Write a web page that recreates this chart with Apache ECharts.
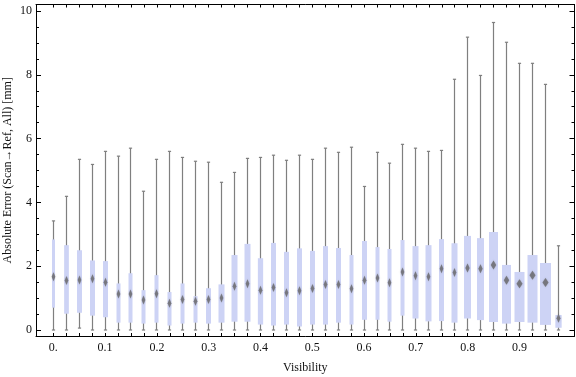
<!DOCTYPE html>
<html>
<head>
<meta charset="utf-8">
<script src="https://cdn.jsdelivr.net/npm/echarts@6/dist/echarts.min.js"></script>
<style>
  html, body { margin: 0; padding: 0; background: #fff; }
  #chart { width: 576px; height: 377px; }
</style>
</head>
<body>
<div id="chart"></div>
<script>
// visibility bins (box centres)
var visibility = [];
for (var i = 0; i < 40; i++) visibility.push(+(i * 0.025).toFixed(3));

// box-whisker statistics per bin [mm]
var whiskerLow = [0, 0, 0.06, 0, 0, 0, 0, 0, 0, 0,
                  0, 0, 0, 0, 0, 0, 0, 0, 0, 0,
                  0, 0, 0, 0, 0, 0, 0, 0, 0, 0,
                  0, 0, 0, 0, 0, 0, 0, 0, 0, 0];
var quart1 = [0.70, 0.51, 0.54, 0.45, 0.40, 0.23, 0.23, 0.20, 0.23, 0.14,
              0.20, 0.23, 0.20, 0.23, 0.26, 0.26, 0.17, 0.14, 0.17, 0.11,
              0.17, 0.17, 0.23, 0.17, 0.32, 0.32, 0.26, 0.45, 0.36, 0.27,
              0.28, 0.23, 0.36, 0.31, 0.25, 0.20, 0.25, 0.23, 0.16, 0.07];
var median = [1.67, 1.55, 1.57, 1.61, 1.50, 1.13, 1.13, 0.94, 1.14, 0.84,
              0.96, 0.90, 0.96, 1.00, 1.37, 1.45, 1.25, 1.33, 1.17, 1.23,
              1.30, 1.43, 1.43, 1.29, 1.56, 1.63, 1.48, 1.82, 1.70, 1.67,
              1.92, 1.80, 1.94, 1.92, 2.04, 1.56, 1.45, 1.72, 1.49, 0.37];
var quart3 = [2.84, 2.66, 2.50, 2.18, 2.16, 1.46, 1.78, 1.25, 1.72, 1.19,
              1.46, 1.06, 1.31, 1.43, 2.35, 2.70, 2.25, 2.73, 2.45, 2.56,
              2.48, 2.63, 2.57, 2.35, 2.79, 2.60, 2.54, 2.82, 2.63, 2.66,
              2.85, 2.72, 2.95, 2.88, 3.07, 2.04, 1.82, 2.35, 2.10, 0.47];
var whiskerHigh = [3.42, 4.19, 5.35, 5.19, 5.60, 5.45, 5.70, 4.35, 5.35, 5.60,
                   5.41, 5.29, 5.26, 4.63, 4.94, 5.38, 5.41, 5.48, 5.32, 5.48,
                   5.35, 5.70, 5.57, 5.73, 4.50, 5.57, 5.23, 5.82, 5.70, 5.60,
                   5.63, 7.86, 9.18, 7.98, 9.64, 9.02, 8.36, 8.36, 7.70, 2.64];
// relative sample weight of each bin (box widths differ)
var binWeight = [3, 4.7, 5, 5, 5, 4, 4, 4, 4, 4,
                 4, 4, 5, 6, 6, 6, 5.3, 5, 5, 5,
                 5, 5, 5, 4, 5, 4, 4, 4, 6, 6,
                 5, 6, 7, 7, 9, 9, 10, 10, 11, 6.3];

// tick marks
var xLabelValues = [0, 0.1, 0.2, 0.3, 0.4, 0.5, 0.6, 0.7, 0.8, 0.9];
var yMajor = [0, 2, 4, 6, 8, 10];
var yMinor = [];
for (var j = 0; j <= 20; j++) yMinor.push(j * 0.5);

var data = visibility.map(function (v, i) {
    return [v, whiskerLow[i], quart1[i], median[i], quart3[i], whiskerHigh[i], binWeight[i]];
});

var myChart = echarts.init(document.getElementById('chart'));
var font = '"Liberation Serif", "DejaVu Serif", serif';

function renderBox(params, api) {
    var x = api.value(0);
    var lo = api.coord([x, api.value(1)]);
    var q1 = api.coord([x, api.value(2)]);
    var md = api.coord([x, api.value(3)]);
    var q3 = api.coord([x, api.value(4)]);
    var hi = api.coord([x, api.value(5)]);
    var band = api.size([0.025, 0])[0];
    var hw = api.value(6) / 12.95 * band / 2;
    var cx = Math.round(lo[0] - 0.5) + 0.5;
    var dw = Math.max(1.8, Math.min(hw * 0.6, 3));
    var dh = 4.5;
    var grey = '#7f7f7f';
    return {
        type: 'group',
        children: [
            { type: 'line', shape: { x1: cx, y1: lo[1], x2: cx, y2: hi[1] },
              style: { stroke: grey, lineWidth: 1.2 } },
            { type: 'line', shape: { x1: cx - 1.6, y1: hi[1], x2: cx + 1.6, y2: hi[1] },
              style: { stroke: grey, lineWidth: 1.2 } },
            { type: 'line', shape: { x1: cx - 1.6, y1: lo[1], x2: cx + 1.6, y2: lo[1] },
              style: { stroke: grey, lineWidth: 1.2 } },
            { type: 'rect', shape: { x: cx - hw, y: q3[1], width: hw * 2, height: q1[1] - q3[1] },
              style: { fill: '#cdd3f5' } },
            { type: 'polygon',
              shape: { points: [[cx, md[1] - dh], [cx + dw, md[1]], [cx, md[1] + dh], [cx - dw, md[1]]] },
              style: { fill: 'rgba(110,110,115,0.85)', shadowBlur: 1.5, shadowColor: 'rgba(110,110,115,0.6)' } }
        ]
    };
}

var black = { color: '#000', width: 1 };
var txt = { fontFamily: font, fontSize: 12, color: '#111' };

function xAxisDef(pos, withLabels) {
    return {
        type: 'value', position: pos, min: -0.0334, max: 1.0063,
        axisLine: { show: true, onZero: false, lineStyle: black },
        axisTick: { show: true, inside: true, length: 3, lineStyle: black, customValues: visibility },
        splitLine: { show: false },
        axisLabel: withLabels ? {
            margin: 6, fontFamily: font, fontSize: 12, color: '#111',
            customValues: xLabelValues,
            formatter: function (v) { return v === 0 ? '0.' : v.toFixed(1); }
        } : { show: false }
    };
}

function yAxisDef(pos, ticks, len, withLine, withLabels) {
    return {
        type: 'value', position: pos, min: -0.188, max: 10.204,
        axisLine: { show: withLine, onZero: false, lineStyle: black },
        axisTick: { show: true, inside: true, length: len, lineStyle: black, customValues: ticks },
        splitLine: { show: false },
        axisLabel: withLabels ? {
            margin: 4, fontFamily: font, fontSize: 12, color: '#111', customValues: yMajor
        } : { show: false }
    };
}

var xBottom = xAxisDef('bottom', true);
xBottom.name = 'Visibility';
xBottom.nameLocation = 'middle';
xBottom.nameGap = 26;
xBottom.nameMoveOverlap = false;
xBottom.nameTextStyle = txt;

var yLeft = yAxisDef('left', yMajor, 5, true, true);
yLeft.name = 'Absolute Error (Scan\u2192Ref, All) [mm]';
yLeft.nameLocation = 'middle';
yLeft.nameGap = 22;
yLeft.nameMoveOverlap = false;
yLeft.nameTextStyle = txt;

var option = {
    animation: false,
    grid: { left: 36, right: 1.5, top: 4.5, bottom: 41, containLabel: false, outerBoundsMode: 'none' },
    xAxis: [xBottom, xAxisDef('top', false)],
    yAxis: [
        yLeft,
        yAxisDef('right', yMajor, 5, true, false),
        yAxisDef('left', yMinor, 3, false, false),
        yAxisDef('right', yMinor, 3, false, false)
    ],
    series: [{
        type: 'custom',
        renderItem: renderBox,
        xAxisIndex: 0,
        yAxisIndex: 0,
        encode: { x: 0, y: [1, 2, 3, 4, 5] },
        data: data,
        clip: false
    }]
};

myChart.setOption(option);
</script>
</body>
</html>
